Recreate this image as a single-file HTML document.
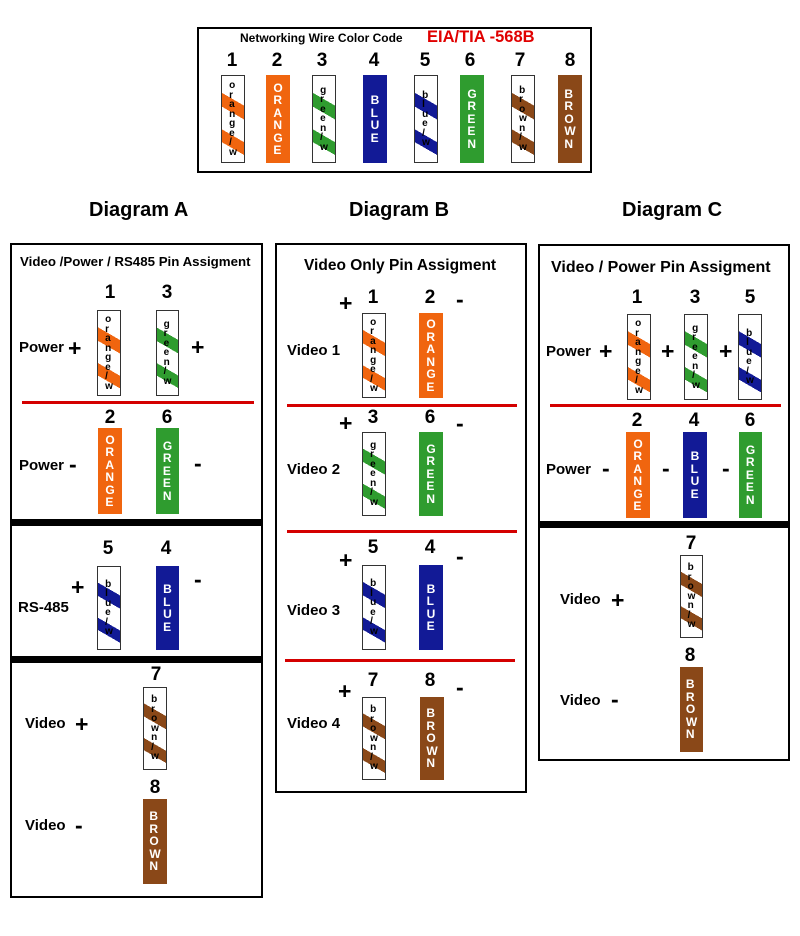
<!DOCTYPE html>
<html><head><meta charset="utf-8"><style>
body{margin:0;width:800px;height:936px;background:#fff;position:relative;overflow:hidden;font-family:"Liberation Sans",Arial,sans-serif;}
.t{position:absolute;font-weight:bold;line-height:1;white-space:nowrap;color:#000;}
.n{position:absolute;font-weight:bold;font-size:19px;line-height:1;width:30px;text-align:center;margin-left:-15px;}
.box{position:absolute;border:2px solid #000;box-sizing:border-box;}
.w{position:absolute;width:24px;height:86px;box-sizing:border-box;display:flex;flex-direction:column;align-items:center;justify-content:center;font-weight:bold;}
.s{border:1px solid #333;font-size:10px;line-height:9.5px;color:#000;background:linear-gradient(30deg,#fff 0,#fff 20%,var(--c) 20%,var(--c) 33%,#fff 33%,#fff 56%,var(--c) 56%,var(--c) 70%,#fff 70%);}
.f{background:var(--c);color:#fff;font-size:12px;line-height:12.5px;}
.red{position:absolute;height:3px;background:#d40000;}
.blk{position:absolute;height:7px;background:#000;}
.o{--c:#f0650f}.g{--c:#2f9c2f}.b{--c:#121a96}.r{--c:#8a4818}
.pm{position:absolute;font-weight:bold;font-size:23px;line-height:1;}
</style></head><body>

<div class="box" style="left:197px;top:27px;width:395px;height:146px"></div>
<div class="t" style="left:240px;top:32px;font-size:12px">Networking Wire Color Code</div>
<div class="t" style="left:427px;top:29px;font-size:16.5px;color:#e00000">EIA/TIA -568B</div>
<div class="n" style="left:232px;top:51px">1</div>
<div class="n" style="left:277px;top:51px">2</div>
<div class="n" style="left:322px;top:51px">3</div>
<div class="n" style="left:374px;top:51px">4</div>
<div class="n" style="left:425px;top:51px">5</div>
<div class="n" style="left:470px;top:51px">6</div>
<div class="n" style="left:520px;top:51px">7</div>
<div class="n" style="left:570px;top:51px">8</div>
<div class="w s o" style="left:221px;top:75px;height:88px">o<br>r<br>a<br>n<br>g<br>e<br>/<br>w</div>
<div class="w f o" style="left:266px;top:75px;height:88px">O<br>R<br>A<br>N<br>G<br>E</div>
<div class="w s g" style="left:312px;top:75px;height:88px">g<br>r<br>e<br>e<br>n<br>/<br>w</div>
<div class="w f b" style="left:363px;top:75px;height:88px">B<br>L<br>U<br>E</div>
<div class="w s b" style="left:414px;top:75px;height:88px">b<br>l<br>u<br>e<br>/<br>w</div>
<div class="w f g" style="left:460px;top:75px;height:88px">G<br>R<br>E<br>E<br>N</div>
<div class="w s r" style="left:511px;top:75px;height:88px">b<br>r<br>o<br>w<br>n<br>/<br>w</div>
<div class="w f r" style="left:558px;top:75px;height:88px">B<br>R<br>O<br>W<br>N</div>

<div class="t" style="left:89px;top:200px;font-size:20px">Diagram A</div>
<div class="t" style="left:349px;top:200px;font-size:20px">Diagram B</div>
<div class="t" style="left:622px;top:200px;font-size:20px">Diagram C</div>

<!-- Panel A -->
<div class="box" style="left:10px;top:243px;width:253px;height:655px"></div>
<div class="t" style="left:20px;top:255px;font-size:13.3px">Video /Power / RS485 Pin Assigment</div>
<div class="n" style="left:110px;top:283px">1</div>
<div class="n" style="left:167px;top:283px">3</div>
<div class="w s o" style="left:97px;top:310px">o<br>r<br>a<br>n<br>g<br>e<br>/<br>w</div>
<div class="w s g" style="left:156px;top:310px;width:23px">g<br>r<br>e<br>e<br>n<br>/<br>w</div>
<div class="t" style="left:19px;top:340px;font-size:15px">Power</div>
<div class="pm" style="left:68px;top:337px">+</div>
<div class="pm" style="left:191px;top:336px">+</div>
<div class="red" style="left:22px;top:401px;width:232px"></div>
<div class="n" style="left:110px;top:408px">2</div>
<div class="n" style="left:167px;top:408px">6</div>
<div class="w f o" style="left:98px;top:428px">O<br>R<br>A<br>N<br>G<br>E</div>
<div class="w f g" style="left:156px;top:428px;width:23px">G<br>R<br>E<br>E<br>N</div>
<div class="t" style="left:19px;top:458px;font-size:15px">Power</div>
<div class="pm" style="left:69px;top:453px">-</div>
<div class="pm" style="left:194px;top:452px">-</div>
<div class="blk" style="left:10px;top:519px;width:253px"></div>
<div class="n" style="left:108px;top:539px">5</div>
<div class="n" style="left:166px;top:539px">4</div>
<div class="w s b" style="left:97px;top:566px;height:84px">b<br>l<br>u<br>e<br>/<br>w</div>
<div class="w f b" style="left:156px;top:566px;width:23px;height:84px">B<br>L<br>U<br>E</div>
<div class="pm" style="left:71px;top:576px">+</div>
<div class="t" style="left:18px;top:600px;font-size:15px">RS-485</div>
<div class="pm" style="left:194px;top:568px">-</div>
<div class="blk" style="left:10px;top:656px;width:253px"></div>
<div class="n" style="left:156px;top:665px">7</div>
<div class="w s r" style="left:143px;top:687px;height:83px">b<br>r<br>o<br>w<br>n<br>/<br>w</div>
<div class="t" style="left:25px;top:716px;font-size:15px">Video</div>
<div class="pm" style="left:75px;top:713px">+</div>
<div class="n" style="left:155px;top:778px">8</div>
<div class="w f r" style="left:143px;top:799px;height:85px">B<br>R<br>O<br>W<br>N</div>
<div class="t" style="left:25px;top:818px;font-size:15px">Video</div>
<div class="pm" style="left:75px;top:814px">-</div>

<!-- Panel B -->
<div class="box" style="left:275px;top:243px;width:252px;height:550px"></div>
<div class="t" style="left:304px;top:258px;font-size:15.5px">Video Only Pin Assigment</div>
<div class="pm" style="left:339px;top:292px">+</div>
<div class="n" style="left:373px;top:288px">1</div>
<div class="n" style="left:430px;top:288px">2</div>
<div class="pm" style="left:456px;top:288px">-</div>
<div class="w s o" style="left:362px;top:313px;height:85px">o<br>r<br>a<br>n<br>g<br>e<br>/<br>w</div>
<div class="w f o" style="left:419px;top:313px;height:85px">O<br>R<br>A<br>N<br>G<br>E</div>
<div class="t" style="left:287px;top:343px;font-size:15px">Video 1</div>
<div class="red" style="left:287px;top:404px;width:230px"></div>
<div class="pm" style="left:339px;top:412px">+</div>
<div class="n" style="left:373px;top:408px">3</div>
<div class="n" style="left:430px;top:408px">6</div>
<div class="pm" style="left:456px;top:412px">-</div>
<div class="w s g" style="left:362px;top:432px;height:84px">g<br>r<br>e<br>e<br>n<br>/<br>w</div>
<div class="w f g" style="left:419px;top:432px;height:84px">G<br>R<br>E<br>E<br>N</div>
<div class="t" style="left:287px;top:462px;font-size:15px">Video 2</div>
<div class="red" style="left:287px;top:530px;width:230px"></div>
<div class="pm" style="left:339px;top:549px">+</div>
<div class="n" style="left:373px;top:538px">5</div>
<div class="n" style="left:430px;top:538px">4</div>
<div class="pm" style="left:456px;top:545px">-</div>
<div class="w s b" style="left:362px;top:565px;height:85px">b<br>l<br>u<br>e<br>/<br>w</div>
<div class="w f b" style="left:419px;top:565px;height:85px">B<br>L<br>U<br>E</div>
<div class="t" style="left:287px;top:603px;font-size:15px">Video 3</div>
<div class="red" style="left:285px;top:659px;width:230px"></div>
<div class="pm" style="left:338px;top:680px">+</div>
<div class="n" style="left:373px;top:671px">7</div>
<div class="n" style="left:430px;top:671px">8</div>
<div class="pm" style="left:456px;top:676px">-</div>
<div class="w s r" style="left:362px;top:697px;height:83px">b<br>r<br>o<br>w<br>n<br>/<br>w</div>
<div class="w f r" style="left:420px;top:697px;height:83px">B<br>R<br>O<br>W<br>N</div>
<div class="t" style="left:287px;top:716px;font-size:15px">Video 4</div>

<!-- Panel C -->
<div class="box" style="left:538px;top:244px;width:252px;height:517px"></div>
<div class="t" style="left:551px;top:260px;font-size:16px">Video / Power Pin Assigment</div>
<div class="n" style="left:637px;top:288px">1</div>
<div class="n" style="left:695px;top:288px">3</div>
<div class="n" style="left:750px;top:288px">5</div>
<div class="w s o" style="left:627px;top:314px">o<br>r<br>a<br>n<br>g<br>e<br>/<br>w</div>
<div class="w s g" style="left:684px;top:314px">g<br>r<br>e<br>e<br>n<br>/<br>w</div>
<div class="w s b" style="left:738px;top:314px">b<br>l<br>u<br>e<br>/<br>w</div>
<div class="t" style="left:546px;top:344px;font-size:15px">Power</div>
<div class="pm" style="left:599px;top:340px">+</div>
<div class="pm" style="left:661px;top:340px">+</div>
<div class="pm" style="left:719px;top:340px">+</div>
<div class="red" style="left:550px;top:404px;width:231px"></div>
<div class="n" style="left:637px;top:411px">2</div>
<div class="n" style="left:694px;top:411px">4</div>
<div class="n" style="left:750px;top:411px">6</div>
<div class="w f o" style="left:626px;top:432px">O<br>R<br>A<br>N<br>G<br>E</div>
<div class="w f b" style="left:683px;top:432px">B<br>L<br>U<br>E</div>
<div class="w f g" style="left:739px;top:432px;width:23px">G<br>R<br>E<br>E<br>N</div>
<div class="t" style="left:546px;top:462px;font-size:15px">Power</div>
<div class="pm" style="left:602px;top:457px">-</div>
<div class="pm" style="left:662px;top:457px">-</div>
<div class="pm" style="left:722px;top:457px">-</div>
<div class="blk" style="left:538px;top:521px;width:252px"></div>
<div class="n" style="left:691px;top:534px">7</div>
<div class="w s r" style="left:680px;top:555px;width:23px;height:83px">b<br>r<br>o<br>w<br>n<br>/<br>w</div>
<div class="t" style="left:560px;top:592px;font-size:15px">Video</div>
<div class="pm" style="left:611px;top:589px">+</div>
<div class="n" style="left:690px;top:646px">8</div>
<div class="w f r" style="left:680px;top:667px;width:23px;height:85px">B<br>R<br>O<br>W<br>N</div>
<div class="t" style="left:560px;top:693px;font-size:15px">Video</div>
<div class="pm" style="left:611px;top:688px">-</div>

</body></html>
